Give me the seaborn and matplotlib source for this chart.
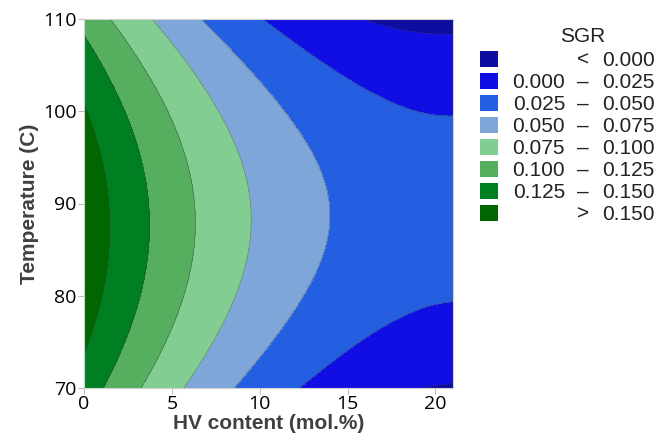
import numpy as np
import pandas as pd
import seaborn as sns
import matplotlib
matplotlib.use("Agg")
import matplotlib.pyplot as plt
from matplotlib.patches import Rectangle

sns.set_theme(style="white")
plt.rcParams["font.family"] = ["Liberation Sans", "DejaVu Sans"]

# Response-surface model for specific growth rate:
# SGR = b0 + b_hv*HV + b_t*T + b_hv2*HV^2 + b_t2*T^2 + b_hvt*HV*T
hv_range = [0.0, 21.0]
temp_range = [70.0, 110.0]
coef_terms = ["b0", "b_hv", "b_t", "b_hv2", "b_t2", "b_hvt"]
coef_values = [-0.5712108, -0.01433228, 0.0169397, 2.964517e-4, -9.707784e-5, 2.011393e-5]

# Contour bands and their colours (lowest band first)
levels = [0.000, 0.025, 0.050, 0.075, 0.100, 0.125, 0.150]
band_colors = ["#0F0CA0", "#100EE2", "#245EE1", "#7EA6D8",
               "#82CD92", "#55AF5F", "#007F22", "#006600"]
legend_low = ["", "0.000", "0.025", "0.050", "0.075", "0.100", "0.125", ""]
legend_sep = ["<", "\u2013", "\u2013", "\u2013", "\u2013", "\u2013", "\u2013", ">"]
legend_high = ["0.000", "0.025", "0.050", "0.075", "0.100", "0.125", "0.150", "0.150"]

x_ticks = [0, 5, 10, 15, 20]
y_ticks = [70, 80, 90, 100, 110]

coef = dict(zip(coef_terms, coef_values))
hv = np.linspace(*hv_range, 300)
temp = np.linspace(*temp_range, 300)
HV, TT = np.meshgrid(hv, temp)
SGR = (coef["b0"] + coef["b_hv"] * HV + coef["b_t"] * TT
       + coef["b_hv2"] * HV ** 2 + coef["b_t2"] * TT ** 2 + coef["b_hvt"] * HV * TT)
surface = pd.DataFrame({"hv": HV.ravel(), "temp": TT.ravel(), "sgr": SGR.ravel()})

W, H = 659, 441
fig = plt.figure(figsize=(W / 100, H / 100), dpi=100)
ax = fig.add_axes([84 / W, 1 - 388 / H, (453 - 84) / W, (388 - 19) / H])

palette = sns.color_palette(band_colors)
bounds = [surface.sgr.min() - 1] + levels + [surface.sgr.max() + 1]
ax.contourf(HV, TT, SGR, levels=bounds, colors=palette)
ax.contour(HV, TT, SGR, levels=levels, colors="#3a3a3a", linewidths=0.45, alpha=0.55)

ax.set_xlim(*hv_range)
ax.set_ylim(*temp_range)
ax.set_xticks(x_ticks)
ax.set_yticks(y_ticks)
tick_font = dict(family=["Open Sans", "DejaVu Sans"], size=14, color="black")
ax.set_xticklabels([str(t) for t in x_ticks], **tick_font)
ax.set_yticklabels([str(t) for t in y_ticks], **tick_font)
ax.tick_params(axis="both", length=4, width=0.8, color="#bbbbbb", pad=1.5)
ax.tick_params(axis="x", pad=1)
ax.tick_params(bottom=True, left=True)
for s in ax.spines.values():
    s.set_color("#d0d0d0")
    s.set_linewidth(0.8)

label_font = dict(family=["Liberation Sans", "DejaVu Sans"], size=15,
                  weight="bold", color="#404040")
ax.set_xlabel("HV content (mol.%)", labelpad=1, **label_font)
ax.set_ylabel("Temperature (C)", labelpad=3, **label_font)

# Legend drawn on the figure, lowest band at the top
def fx(px):
    return px / W

def fy(py):
    return 1 - py / H

leg_font = dict(family=["Liberation Sans", "DejaVu Sans"], size=15, color="#222222")
fig.text(fx(583), fy(37), "SGR", ha="center", va="center", **leg_font)
row0, step = 59, 22
for k, color in enumerate(palette):
    yc = row0 + k * step
    fig.add_artist(Rectangle((fx(480), fy(yc + 8)), 18 / W, 16 / H,
                             transform=fig.transFigure, facecolor=color,
                             edgecolor="none"))
    if legend_low[k]:
        fig.text(fx(565), fy(yc + 1), legend_low[k], ha="right", va="center", **leg_font)
    fig.text(fx(583), fy(yc + 1), legend_sep[k], ha="center", va="center", **leg_font)
    fig.text(fx(602), fy(yc + 1), legend_high[k], ha="left", va="center", **leg_font)

fig.savefig("out.png", dpi=100)
